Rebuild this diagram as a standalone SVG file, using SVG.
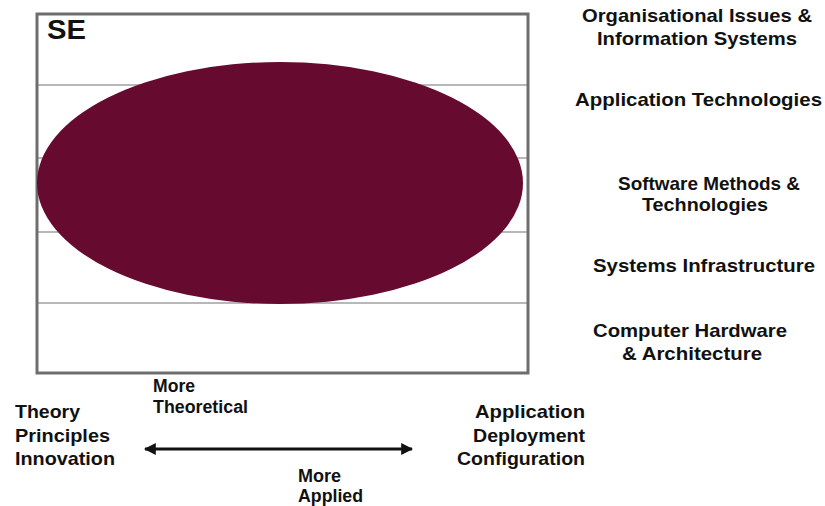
<svg xmlns="http://www.w3.org/2000/svg" width="825" height="506" viewBox="0 0 825 506">
<style>
text{font-family:"Liberation Sans",Arial,sans-serif;font-weight:bold;fill:#111}
.lbl{font-size:19px}
.sm{font-size:18px}
.band{stroke:#b8b8b8;stroke-width:2}
</style>
<defs>
<marker id="ah" viewBox="0 0 10 10" refX="9" refY="5" markerWidth="4" markerHeight="4" orient="auto-start-reverse"><path d="M0,0 L10,5 L0,10 z" fill="#111"/></marker>
</defs>
<rect width="825" height="506" fill="#fff"/>
<g id="frame">
<line class="band" x1="38" y1="85" x2="527" y2="85"/>
<line class="band" x1="38" y1="158" x2="527" y2="158"/>
<line class="band" x1="38" y1="232" x2="527" y2="232"/>
<line class="band" x1="38" y1="303" x2="527" y2="303"/>
<rect x="37" y="14" width="491" height="359" fill="none" stroke="#6e6e6e" stroke-width="3"/>
<text x="47" y="39" font-size="28" textLength="39" lengthAdjust="spacingAndGlyphs">SE</text>
</g>
<g id="se-ellipse"><ellipse cx="280" cy="183" rx="243" ry="121" fill="#670a30"/></g>
<g id="labels">
<text class="lbl" x="582" y="22" textLength="230" lengthAdjust="spacingAndGlyphs">Organisational Issues &amp;</text>
<text class="lbl" x="597" y="45" textLength="200" lengthAdjust="spacingAndGlyphs">Information Systems</text>
<text class="lbl" x="575" y="106" textLength="247" lengthAdjust="spacingAndGlyphs">Application Technologies</text>
<text class="lbl" x="618" y="190" textLength="182" lengthAdjust="spacingAndGlyphs">Software Methods &amp;</text>
<text class="lbl" x="642" y="211" textLength="126" lengthAdjust="spacingAndGlyphs">Technologies</text>
<text class="lbl" x="593" y="272" textLength="222" lengthAdjust="spacingAndGlyphs">Systems Infrastructure</text>
<text class="lbl" x="593" y="337" textLength="194" lengthAdjust="spacingAndGlyphs">Computer Hardware</text>
<text class="lbl" x="622" y="360" textLength="140" lengthAdjust="spacingAndGlyphs">&amp; Architecture</text>
<text class="lbl" x="15" y="418" textLength="65" lengthAdjust="spacingAndGlyphs">Theory</text>
<text class="lbl" x="15" y="442" textLength="95" lengthAdjust="spacingAndGlyphs">Principles</text>
<text class="lbl" x="15" y="465" textLength="100" lengthAdjust="spacingAndGlyphs">Innovation</text>
<text class="lbl" x="475" y="418" textLength="110" lengthAdjust="spacingAndGlyphs">Application</text>
<text class="lbl" x="473" y="442" textLength="112" lengthAdjust="spacingAndGlyphs">Deployment</text>
<text class="lbl" x="457" y="465" textLength="128" lengthAdjust="spacingAndGlyphs">Configuration</text>
<text class="sm" x="153" y="392" textLength="42" lengthAdjust="spacingAndGlyphs">More</text>
<text class="sm" x="153" y="413" textLength="95" lengthAdjust="spacingAndGlyphs">Theoretical</text>
<text class="sm" x="298" y="482" textLength="43" lengthAdjust="spacingAndGlyphs">More</text>
<text class="sm" x="298" y="502" textLength="65" lengthAdjust="spacingAndGlyphs">Applied</text>
</g>
<g id="connectors">
<line x1="145" y1="449" x2="412" y2="449" stroke="#111" stroke-width="3" marker-start="url(#ah)" marker-end="url(#ah)"/>
</g>
</svg>
